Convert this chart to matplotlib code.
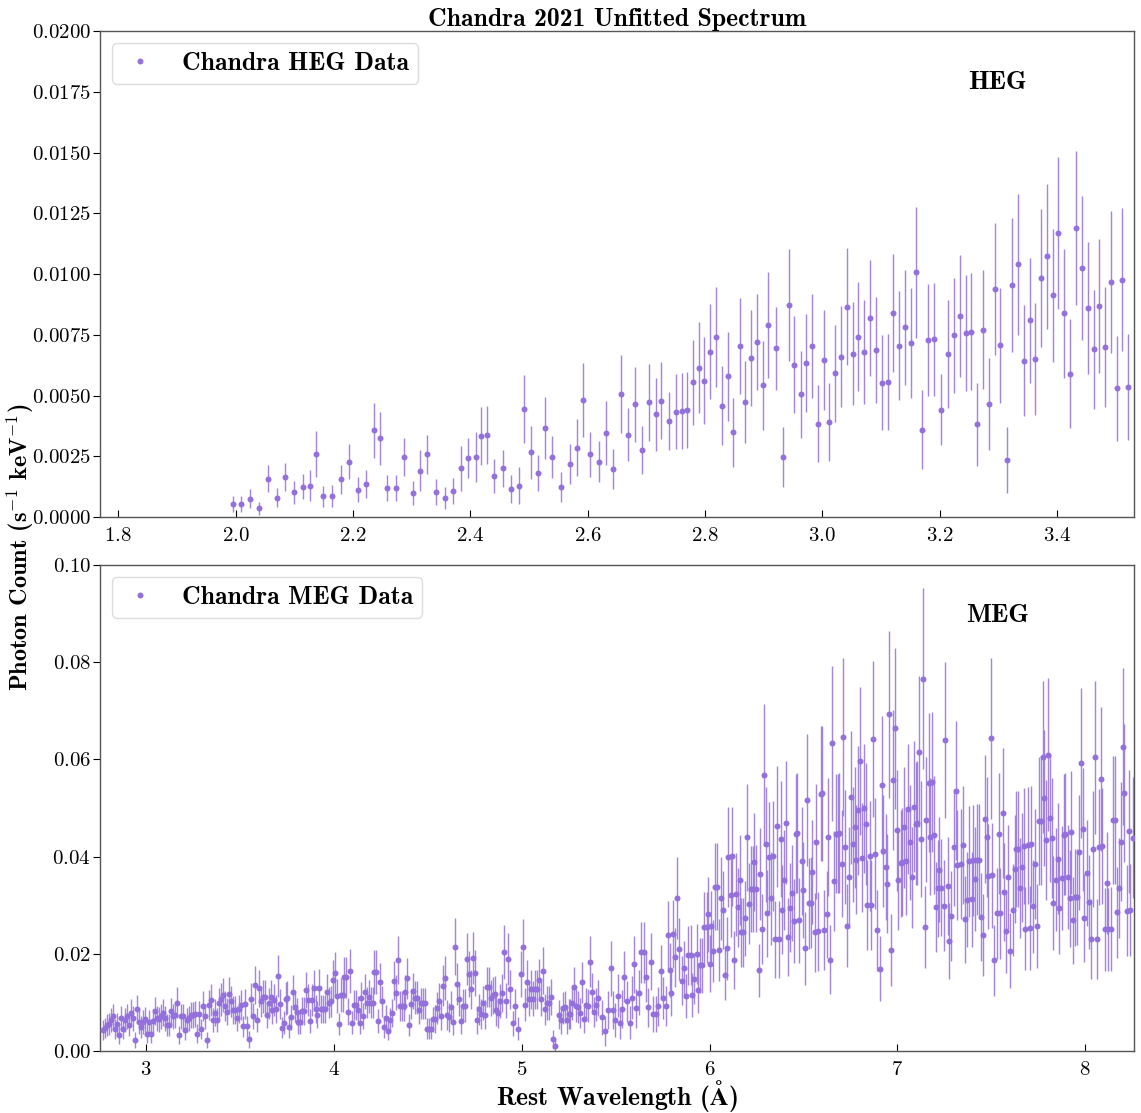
"""
Chandra 2021 unfitted HEG / MEG spectrum, recreated from the figure.
"""
import matplotlib
matplotlib.use("Agg")
import matplotlib.pyplot as plt
from matplotlib.ticker import MultipleLocator

plt.rcParams.update({
    "font.family": ["cmr10", "DejaVu Serif"],
    "mathtext.fontset": "cm",
    "axes.formatter.use_mathtext": True,
    "axes.unicode_minus": False,
})

PURPLE = "#9370DB"

# --- HEG data (wavelength in Angstrom, photon count, 1-sigma error) ---
heg_wave = [1.995, 2.010, 2.025, 2.040, 2.055, 2.070, 2.085, 2.100, 2.115, 2.127,
            2.137, 2.149, 2.164, 2.179, 2.193, 2.208, 2.223, 2.236, 2.246, 2.258,
            2.273, 2.287, 2.302, 2.315, 2.327, 2.342, 2.357, 2.371, 2.384, 2.396,
            2.409, 2.419, 2.429, 2.441, 2.456, 2.470, 2.483, 2.492, 2.503, 2.515,
            2.527, 2.540, 2.554, 2.570, 2.582, 2.592, 2.604, 2.619, 2.632, 2.644,
            2.657, 2.669, 2.681, 2.693, 2.705, 2.716, 2.725, 2.738, 2.750, 2.760,
            2.770, 2.779, 2.790, 2.799, 2.809, 2.819, 2.829, 2.839, 2.848, 2.859,
            2.868, 2.879, 2.888, 2.898, 2.908, 2.921, 2.933, 2.943, 2.952, 2.963,
            2.972, 2.983, 2.992, 3.002, 3.012, 3.022, 3.032, 3.042, 3.052, 3.061,
            3.071, 3.081, 3.091, 3.101, 3.111, 3.121, 3.131, 3.140, 3.151, 3.160,
            3.170, 3.180, 3.190, 3.202, 3.214, 3.224, 3.234, 3.244, 3.254, 3.264,
            3.274, 3.284, 3.294, 3.303, 3.314, 3.323, 3.333, 3.343, 3.353, 3.363,
            3.373, 3.382, 3.393, 3.402, 3.412, 3.422, 3.432, 3.442, 3.452, 3.462,
            3.471, 3.482, 3.491, 3.502, 3.511, 3.521]
heg_flux = [0.00054, 0.00053, 0.00075, 0.00036, 0.00158, 0.00080, 0.00163, 0.00101, 0.00125, 0.00128,
            0.00259, 0.00085, 0.00086, 0.00156, 0.00228, 0.00112, 0.00137, 0.00357, 0.00324, 0.00118,
            0.00119, 0.00248, 0.00099, 0.00191, 0.00258, 0.00103, 0.00077, 0.00106, 0.00200, 0.00244,
            0.00247, 0.00333, 0.00337, 0.00169, 0.00200, 0.00114, 0.00129, 0.00446, 0.00267, 0.00180,
            0.00365, 0.00246, 0.00122, 0.00219, 0.00285, 0.00481, 0.00258, 0.00228, 0.00346, 0.00199,
            0.00506, 0.00339, 0.00464, 0.00276, 0.00472, 0.00423, 0.00479, 0.00394, 0.00433, 0.00436,
            0.00439, 0.00554, 0.00614, 0.00561, 0.00680, 0.00742, 0.00458, 0.00579, 0.00348, 0.00704,
            0.00472, 0.00654, 0.00719, 0.00542, 0.00790, 0.00694, 0.00246, 0.00872, 0.00627, 0.00505,
            0.00635, 0.00704, 0.00384, 0.00647, 0.00390, 0.00591, 0.00660, 0.00866, 0.00671, 0.00742,
            0.00678, 0.00820, 0.00687, 0.00553, 0.00556, 0.00841, 0.00705, 0.00781, 0.00715, 0.01007,
            0.00359, 0.00727, 0.00731, 0.00442, 0.00670, 0.00748, 0.00828, 0.00757, 0.00763, 0.00381,
            0.00771, 0.00464, 0.00937, 0.00707, 0.00235, 0.00955, 0.01040, 0.00643, 0.00809, 0.00650,
            0.00984, 0.01073, 0.00912, 0.01169, 0.00838, 0.00590, 0.01189, 0.01025, 0.00859, 0.00690,
            0.00868, 0.00698, 0.00966, 0.00530, 0.00977, 0.00535]
heg_err = [0.00032, 0.00032, 0.00039, 0.00027, 0.00057, 0.00040, 0.00058, 0.00047, 0.00052, 0.00064,
           0.00093, 0.00043, 0.00044, 0.00060, 0.00072, 0.00052, 0.00058, 0.00113, 0.00108, 0.00054,
           0.00054, 0.00079, 0.00049, 0.00086, 0.00081, 0.00052, 0.00045, 0.00054, 0.00092, 0.00083,
           0.00102, 0.00119, 0.00120, 0.00070, 0.00077, 0.00058, 0.00075, 0.00140, 0.00109, 0.00074,
           0.00128, 0.00087, 0.00062, 0.00083, 0.00117, 0.00152, 0.00092, 0.00086, 0.00131, 0.00082,
           0.00160, 0.00108, 0.00154, 0.00098, 0.00158, 0.00150, 0.00160, 0.00119, 0.00154, 0.00156,
           0.00156, 0.00176, 0.00187, 0.00178, 0.00196, 0.00206, 0.00163, 0.00183, 0.00142, 0.00198,
           0.00168, 0.00198, 0.00198, 0.00182, 0.00220, 0.00170, 0.00123, 0.00232, 0.00199, 0.00178,
           0.00201, 0.00213, 0.00158, 0.00205, 0.00160, 0.00198, 0.00209, 0.00240, 0.00212, 0.00224,
           0.00215, 0.00238, 0.00217, 0.00197, 0.00198, 0.00243, 0.00224, 0.00237, 0.00226, 0.00269,
           0.00162, 0.00231, 0.00232, 0.00147, 0.00222, 0.00236, 0.00250, 0.00240, 0.00241, 0.00172,
           0.00244, 0.00189, 0.00271, 0.00236, 0.00137, 0.00276, 0.00289, 0.00229, 0.00257, 0.00231,
           0.00285, 0.00298, 0.00275, 0.00313, 0.00266, 0.00223, 0.00318, 0.00296, 0.00272, 0.00244,
           0.00275, 0.00247, 0.00292, 0.00216, 0.00294, 0.00218]

# --- MEG data ---
meg_wave = [
    2.769, 2.780, 2.791, 2.801, 2.812, 2.823, 2.833, 2.844, 2.855, 2.865,
    2.876, 2.886, 2.897, 2.908, 2.918, 2.929, 2.940, 2.950, 2.961, 2.972,
    2.982, 2.993, 3.004, 3.014, 3.025, 3.036, 3.046, 3.057, 3.068, 3.078,
    3.089, 3.099, 3.110, 3.121, 3.131, 3.142, 3.153, 3.163, 3.174, 3.185,
    3.195, 3.206, 3.217, 3.227, 3.238, 3.249, 3.259, 3.270, 3.281, 3.291,
    3.302, 3.312, 3.323, 3.334, 3.344, 3.355, 3.366, 3.376, 3.387, 3.398,
    3.408, 3.419, 3.430, 3.440, 3.451, 3.462, 3.472, 3.483, 3.493, 3.504,
    3.515, 3.525, 3.536, 3.547, 3.557, 3.568, 3.579, 3.589, 3.600, 3.611,
    3.621, 3.632, 3.643, 3.653,
    3.664, 3.673, 3.683, 3.692, 3.701, 3.712, 3.722, 3.733, 3.744, 3.751,
    3.761, 3.772, 3.783, 3.793, 3.804, 3.811, 3.822, 3.829, 3.840, 3.850,
    3.861, 3.872, 3.882, 3.893, 3.903, 3.912, 3.921, 3.932, 3.943, 3.953,
    3.964, 3.974, 3.985, 3.996, 4.006, 4.017, 4.028, 4.038, 4.049, 4.056,
    4.067, 4.077, 4.086, 4.095, 4.106, 4.116, 4.127, 4.138, 4.145, 4.156,
    4.166, 4.177, 4.188, 4.198, 4.209, 4.216, 4.227, 4.237, 4.244, 4.255,
    4.266, 4.276, 4.287, 4.298, 4.308, 4.319, 4.329, 4.340, 4.351, 4.361,
    4.372, 4.379, 4.390, 4.401, 4.411, 4.422, 4.432, 4.443, 4.454, 4.464,
    4.475, 4.486, 4.496, 4.507, 4.518, 4.528,
    4.537, 4.551, 4.562, 4.573, 4.583, 4.594, 4.605, 4.615, 4.626, 4.637,
    4.647, 4.658, 4.669, 4.679, 4.690, 4.700, 4.711, 4.722, 4.732, 4.740,
    4.750, 4.764, 4.775, 4.786, 4.793, 4.803, 4.814, 4.825, 4.835, 4.846,
    4.857, 4.864, 4.874, 4.885, 4.896, 4.906, 4.917, 4.928, 4.938, 4.952,
    4.967, 4.981, 4.995, 5.006, 5.018, 5.031, 5.041, 5.052, 5.063, 5.073,
    5.084, 5.094, 5.102, 5.112, 5.123, 5.134, 5.144, 5.155, 5.166, 5.178,
    5.197, 5.208, 5.219, 5.229, 5.240, 5.251, 5.258, 5.268, 5.279, 5.290,
    5.300, 5.311, 5.322, 5.332, 5.343, 5.354, 5.364, 5.375, 5.386, 5.396,
    5.407,
    5.430, 5.444, 5.462, 5.473, 5.487, 5.497, 5.512, 5.526, 5.536, 5.547,
    5.561, 5.576, 5.586, 5.597, 5.611, 5.622, 5.636, 5.650, 5.661, 5.675,
    5.687, 5.700, 5.714, 5.728, 5.742, 5.755, 5.767, 5.778, 5.789, 5.797,
    5.806, 5.817, 5.828, 5.840, 5.851, 5.863, 5.874, 5.884, 5.899, 5.909,
    5.920, 5.932, 5.941, 5.952, 5.962, 5.973, 5.984, 5.991, 6.000, 6.009,
    6.021, 6.030, 6.041, 6.051, 6.060, 6.071, 6.080, 6.092, 6.101, 6.112,
    6.120, 6.131, 6.140, 6.151, 6.160, 6.168, 6.179, 6.190, 6.200, 6.211,
    6.220, 6.229, 6.239, 6.250, 6.261, 6.270, 6.280,
    6.289, 6.300, 6.308, 6.319, 6.330, 6.340, 6.349, 6.360, 6.369, 6.379,
    6.388, 6.399, 6.408, 6.419, 6.429, 6.438, 6.449, 6.459, 6.468, 6.479,
    6.490, 6.498, 6.509, 6.518, 6.529, 6.539, 6.548, 6.559, 6.569, 6.580,
    6.591, 6.601, 6.612, 6.623, 6.633, 6.642, 6.653, 6.662, 6.672, 6.683,
    6.692, 6.703, 6.713, 6.722, 6.733, 6.742, 6.752, 6.763, 6.772, 6.782,
    6.793, 6.802, 6.813, 6.823, 6.832, 6.841, 6.852, 6.862, 6.873, 6.882,
    6.892, 6.907, 6.917, 6.926, 6.937, 6.947, 6.956, 6.967, 6.976, 6.987,
    6.997, 7.006, 7.017, 7.027, 7.036, 7.047, 7.058, 7.066, 7.077, 7.086,
    7.097, 7.107, 7.116, 7.127, 7.137, 7.146, 7.155, 7.166, 7.176, 7.185,
    7.196, 7.205, 7.215, 7.224, 7.235, 7.246, 7.256, 7.267, 7.274,
    7.286, 7.299, 7.310, 7.320, 7.338, 7.352, 7.359, 7.370, 7.382, 7.395,
    7.405, 7.414, 7.425, 7.434, 7.444, 7.455, 7.464, 7.475, 7.485, 7.496,
    7.505, 7.517, 7.530, 7.539, 7.549, 7.560, 7.569, 7.579, 7.590, 7.602,
    7.613, 7.624, 7.634, 7.643, 7.652, 7.664, 7.675, 7.682, 7.693, 7.704,
    7.712, 7.723, 7.734, 7.744, 7.755, 7.764, 7.775, 7.782, 7.792, 7.803,
    7.814, 7.823, 7.831, 7.842, 7.853, 7.863, 7.874, 7.886, 7.895, 7.906,
    7.917, 7.925, 7.936, 7.947, 7.956, 7.966, 7.977, 7.986, 7.996, 8.007,
    8.018, 8.030, 8.041, 8.051, 8.062, 8.071, 8.082, 8.092, 8.103, 8.114,
    8.124, 8.135, 8.146, 8.156, 8.169, 8.179, 8.190, 8.201, 8.209, 8.220,
    8.231, 8.241, 8.254]
meg_flux = [
    0.0043, 0.0047, 0.0054, 0.0056, 0.0064, 0.0071, 0.0045, 0.0056, 0.0033, 0.0067,
    0.0045, 0.0064, 0.0071, 0.0054, 0.0078, 0.0067, 0.0023, 0.0086, 0.0060, 0.0049,
    0.0060, 0.0065, 0.0036, 0.0060, 0.0036, 0.0062, 0.0083, 0.0067, 0.0065, 0.0071,
    0.0079, 0.0067, 0.0054, 0.0054, 0.0082, 0.0071, 0.0074, 0.0099, 0.0033, 0.0071,
    0.0071, 0.0043, 0.0064, 0.0067, 0.0074, 0.0074, 0.0076, 0.0036, 0.0076, 0.0045,
    0.0093, 0.0071, 0.0023, 0.0095, 0.0104, 0.0064, 0.0079, 0.0064, 0.0098, 0.0106,
    0.0115, 0.0093, 0.0081, 0.0117, 0.0102, 0.0084, 0.0084, 0.0067, 0.0086, 0.0095,
    0.0051, 0.0096, 0.0051, 0.0024, 0.0106, 0.0072, 0.0136, 0.0064, 0.0129, 0.0102,
    0.0112, 0.0112, 0.0074, 0.0098,
    0.0112, 0.0084, 0.0105, 0.0086, 0.0155, 0.0097, 0.0048, 0.0058, 0.0108, 0.0110,
    0.0049, 0.0069, 0.0121, 0.0090, 0.0081, 0.0060, 0.0060, 0.0083, 0.0083, 0.0126,
    0.0105, 0.0062, 0.0105, 0.0129, 0.0086, 0.0075, 0.0130, 0.0086, 0.0087, 0.0087,
    0.0122, 0.0099, 0.0102, 0.0146, 0.0160, 0.0114, 0.0056, 0.0115, 0.0115, 0.0152,
    0.0152, 0.0081, 0.0165, 0.0058, 0.0095, 0.0095, 0.0084, 0.0058, 0.0109, 0.0072,
    0.0122, 0.0099, 0.0112, 0.0099, 0.0099, 0.0163, 0.0163, 0.0062, 0.0141, 0.0102,
    0.0049, 0.0068, 0.0042, 0.0064, 0.0078, 0.0145, 0.0120, 0.0187, 0.0093, 0.0093,
    0.0093, 0.0121, 0.0150, 0.0054, 0.0096, 0.0124, 0.0110, 0.0110, 0.0084, 0.0098,
    0.0098, 0.0098, 0.0046, 0.0046, 0.0046, 0.0065,
    0.0066, 0.0088, 0.0103, 0.0073, 0.0134, 0.0150, 0.0074, 0.0069, 0.0090, 0.0060,
    0.0215, 0.0138, 0.0107, 0.0061, 0.0093, 0.0093, 0.0189, 0.0158, 0.0127, 0.0191,
    0.0160, 0.0064, 0.0086, 0.0076, 0.0098, 0.0075, 0.0131, 0.0131, 0.0110, 0.0115,
    0.0117, 0.0084, 0.0079, 0.0102, 0.0119, 0.0204, 0.0103, 0.0189, 0.0127, 0.0057,
    0.0093, 0.0046, 0.0158, 0.0213, 0.0095, 0.0143, 0.0107, 0.0127, 0.0108, 0.0127,
    0.0127, 0.0146, 0.0108, 0.0165, 0.0086, 0.0099, 0.0098, 0.0112, 0.0024, 0.0010,
    0.0075, 0.0064, 0.0088, 0.0090, 0.0064, 0.0076, 0.0076, 0.0098, 0.0132, 0.0093,
    0.0091, 0.0079, 0.0141, 0.0065, 0.0095, 0.0093, 0.0184, 0.0122, 0.0081, 0.0095,
    0.0110,
    0.0069, 0.0041, 0.0084, 0.0170, 0.0084, 0.0064, 0.0114, 0.0057, 0.0086, 0.0153,
    0.0102, 0.0058, 0.0110, 0.0178, 0.0088, 0.0120, 0.0203, 0.0203, 0.0152, 0.0090,
    0.0184, 0.0076, 0.0076, 0.0092, 0.0164, 0.0109, 0.0093, 0.0238, 0.0167, 0.0119,
    0.0240, 0.0193, 0.0315, 0.0210, 0.0145, 0.0170, 0.0113, 0.0197, 0.0198, 0.0115,
    0.0149, 0.0200, 0.0125, 0.0176, 0.0176, 0.0255, 0.0255, 0.0281, 0.0180, 0.0257,
    0.0206, 0.0338, 0.0338, 0.0208, 0.0314, 0.0290, 0.0157, 0.0211, 0.0399, 0.0320,
    0.0401, 0.0187, 0.0322, 0.0296, 0.0352, 0.0244, 0.0244, 0.0273, 0.0440, 0.0303,
    0.0333, 0.0333, 0.0389, 0.0334, 0.0166, 0.0364, 0.0252,
    0.0567, 0.0425, 0.0283, 0.0399, 0.0314, 0.0402, 0.0230, 0.0462, 0.0230, 0.0436,
    0.0291, 0.0351, 0.0470, 0.0235, 0.0295, 0.0325, 0.0267, 0.0447, 0.0449, 0.0269,
    0.0391, 0.0331, 0.0211, 0.0517, 0.0304, 0.0305, 0.0368, 0.0244, 0.0431, 0.0246,
    0.0529, 0.0530, 0.0249, 0.0281, 0.0440, 0.0188, 0.0633, 0.0349, 0.0447, 0.0447,
    0.0448, 0.0385, 0.0646, 0.0420, 0.0258, 0.0357, 0.0522, 0.0425, 0.0460, 0.0394,
    0.0495, 0.0596, 0.0398, 0.0499, 0.0467, 0.0300, 0.0402, 0.0301, 0.0642, 0.0406,
    0.0248, 0.0169, 0.0547, 0.0412, 0.0378, 0.0344, 0.0693, 0.0207, 0.0557, 0.0664,
    0.0454, 0.0351, 0.0386, 0.0389, 0.0460, 0.0390, 0.0498, 0.0429, 0.0357, 0.0503,
    0.0468, 0.0469, 0.0616, 0.0436, 0.0766, 0.0255, 0.0476, 0.0552, 0.0441, 0.0554,
    0.0444, 0.0296, 0.0335, 0.0373, 0.0336, 0.0299, 0.0640, 0.0339, 0.0226,
    0.0278, 0.0419, 0.0535, 0.0383, 0.0384, 0.0424, 0.0271, 0.0311, 0.0390, 0.0312,
    0.0392, 0.0353, 0.0394, 0.0394, 0.0276, 0.0238, 0.0478, 0.0440, 0.0360, 0.0643,
    0.0362, 0.0187, 0.0283, 0.0447, 0.0283, 0.0490, 0.0327, 0.0246, 0.0357, 0.0206,
    0.0290, 0.0374, 0.0416, 0.0416, 0.0335, 0.0378, 0.0422, 0.0252, 0.0423, 0.0253,
    0.0425, 0.0298, 0.0384, 0.0257, 0.0473, 0.0473, 0.0605, 0.0520, 0.0434, 0.0610,
    0.0480, 0.0438, 0.0305, 0.0352, 0.0396, 0.0295, 0.0355, 0.0445, 0.0446, 0.0357,
    0.0314, 0.0450, 0.0269, 0.0316, 0.0317, 0.0409, 0.0592, 0.0456, 0.0274, 0.0366,
    0.0307, 0.0230, 0.0416, 0.0604, 0.0231, 0.0420, 0.0560, 0.0422, 0.0250, 0.0345,
    0.0250, 0.0251, 0.0475, 0.0475, 0.0285, 0.0335, 0.0431, 0.0626, 0.0530, 0.0289,
    0.0452, 0.0290, 0.0439]
meg_err = [
    0.0021, 0.0021, 0.0023, 0.0023, 0.0025, 0.0026, 0.0021, 0.0023, 0.0019, 0.0025,
    0.0021, 0.0025, 0.0026, 0.0023, 0.0028, 0.0025, 0.0017, 0.0029, 0.0024, 0.0022,
    0.0024, 0.0025, 0.0019, 0.0024, 0.0019, 0.0024, 0.0029, 0.0025, 0.0025, 0.0026,
    0.0028, 0.0025, 0.0023, 0.0023, 0.0028, 0.0026, 0.0027, 0.0032, 0.0019, 0.0026,
    0.0026, 0.0021, 0.0025, 0.0025, 0.0027, 0.0027, 0.0027, 0.0019, 0.0027, 0.0021,
    0.0031, 0.0026, 0.0017, 0.0031, 0.0033, 0.0025, 0.0028, 0.0025, 0.0032, 0.0033,
    0.0035, 0.0031, 0.0028, 0.0035, 0.0032, 0.0029, 0.0029, 0.0025, 0.0029, 0.0031,
    0.0022, 0.0031, 0.0022, 0.0017, 0.0033, 0.0026, 0.0039, 0.0025, 0.0038, 0.0032,
    0.0034, 0.0034, 0.0027, 0.0032,
    0.0034, 0.0029, 0.0033, 0.0029, 0.0043, 0.0031, 0.0022, 0.0024, 0.0034, 0.0034,
    0.0022, 0.0026, 0.0036, 0.0030, 0.0028, 0.0024, 0.0024, 0.0029, 0.0029, 0.0037,
    0.0033, 0.0024, 0.0033, 0.0038, 0.0029, 0.0027, 0.0038, 0.0029, 0.0029, 0.0029,
    0.0036, 0.0032, 0.0032, 0.0041, 0.0044, 0.0035, 0.0023, 0.0035, 0.0035, 0.0042,
    0.0042, 0.0028, 0.0045, 0.0024, 0.0031, 0.0031, 0.0029, 0.0024, 0.0034, 0.0026,
    0.0036, 0.0032, 0.0034, 0.0032, 0.0032, 0.0045, 0.0045, 0.0024, 0.0040, 0.0032,
    0.0022, 0.0026, 0.0020, 0.0025, 0.0028, 0.0041, 0.0036, 0.0049, 0.0031, 0.0031,
    0.0031, 0.0036, 0.0042, 0.0023, 0.0031, 0.0037, 0.0034, 0.0034, 0.0029, 0.0032,
    0.0032, 0.0032, 0.0021, 0.0021, 0.0021, 0.0025,
    0.0028, 0.0033, 0.0036, 0.0030, 0.0042, 0.0045, 0.0030, 0.0029, 0.0033, 0.0027,
    0.0058, 0.0043, 0.0036, 0.0027, 0.0034, 0.0034, 0.0053, 0.0047, 0.0040, 0.0053,
    0.0047, 0.0028, 0.0032, 0.0030, 0.0035, 0.0030, 0.0041, 0.0041, 0.0037, 0.0038,
    0.0038, 0.0032, 0.0031, 0.0035, 0.0039, 0.0056, 0.0036, 0.0053, 0.0040, 0.0026,
    0.0034, 0.0024, 0.0047, 0.0058, 0.0034, 0.0044, 0.0036, 0.0040, 0.0037, 0.0040,
    0.0040, 0.0044, 0.0037, 0.0048, 0.0032, 0.0035, 0.0035, 0.0037, 0.0020, 0.0017,
    0.0030, 0.0028, 0.0033, 0.0033, 0.0028, 0.0030, 0.0030, 0.0035, 0.0041, 0.0034,
    0.0033, 0.0031, 0.0043, 0.0028, 0.0034, 0.0034, 0.0052, 0.0039, 0.0031, 0.0034,
    0.0037,
    0.0036, 0.0030, 0.0039, 0.0056, 0.0039, 0.0035, 0.0045, 0.0033, 0.0039, 0.0053,
    0.0042, 0.0034, 0.0044, 0.0058, 0.0040, 0.0046, 0.0063, 0.0063, 0.0052, 0.0040,
    0.0059, 0.0037, 0.0037, 0.0040, 0.0055, 0.0044, 0.0041, 0.0070, 0.0055, 0.0046,
    0.0070, 0.0061, 0.0085, 0.0064, 0.0051, 0.0056, 0.0045, 0.0061, 0.0062, 0.0045,
    0.0052, 0.0062, 0.0047, 0.0057, 0.0057, 0.0073, 0.0073, 0.0078, 0.0058, 0.0073,
    0.0063, 0.0090, 0.0090, 0.0064, 0.0085, 0.0080, 0.0053, 0.0064, 0.0102, 0.0086,
    0.0102, 0.0059, 0.0086, 0.0081, 0.0092, 0.0071, 0.0071, 0.0077, 0.0110, 0.0083,
    0.0089, 0.0089, 0.0100, 0.0089, 0.0055, 0.0095, 0.0072,
    0.0146, 0.0118, 0.0090, 0.0113, 0.0096, 0.0113, 0.0079, 0.0125, 0.0079, 0.0120,
    0.0091, 0.0103, 0.0127, 0.0080, 0.0092, 0.0098, 0.0086, 0.0122, 0.0123, 0.0087,
    0.0111, 0.0099, 0.0075, 0.0136, 0.0094, 0.0094, 0.0107, 0.0082, 0.0119, 0.0082,
    0.0139, 0.0139, 0.0083, 0.0089, 0.0121, 0.0071, 0.0160, 0.0103, 0.0122, 0.0122,
    0.0123, 0.0110, 0.0162, 0.0117, 0.0085, 0.0104, 0.0137, 0.0118, 0.0125, 0.0112,
    0.0132, 0.0152, 0.0113, 0.0133, 0.0126, 0.0093, 0.0113, 0.0093, 0.0161, 0.0114,
    0.0083, 0.0067, 0.0142, 0.0115, 0.0109, 0.0102, 0.0172, 0.0074, 0.0144, 0.0166,
    0.0124, 0.0103, 0.0110, 0.0111, 0.0125, 0.0111, 0.0133, 0.0119, 0.0104, 0.0134,
    0.0127, 0.0127, 0.0156, 0.0120, 0.0186, 0.0084, 0.0128, 0.0143, 0.0121, 0.0144,
    0.0122, 0.0092, 0.0100, 0.0108, 0.0100, 0.0093, 0.0161, 0.0101, 0.0078,
    0.0092, 0.0120, 0.0143, 0.0113, 0.0113, 0.0121, 0.0090, 0.0098, 0.0114, 0.0098,
    0.0114, 0.0107, 0.0115, 0.0115, 0.0091, 0.0084, 0.0132, 0.0124, 0.0108, 0.0165,
    0.0108, 0.0073, 0.0093, 0.0125, 0.0093, 0.0134, 0.0101, 0.0085, 0.0107, 0.0077,
    0.0094, 0.0111, 0.0119, 0.0119, 0.0103, 0.0112, 0.0120, 0.0086, 0.0121, 0.0087,
    0.0121, 0.0096, 0.0113, 0.0087, 0.0131, 0.0131, 0.0157, 0.0140, 0.0123, 0.0158,
    0.0132, 0.0124, 0.0097, 0.0106, 0.0115, 0.0095, 0.0107, 0.0125, 0.0125, 0.0107,
    0.0099, 0.0126, 0.0090, 0.0099, 0.0099, 0.0118, 0.0154, 0.0127, 0.0091, 0.0109,
    0.0097, 0.0082, 0.0119, 0.0157, 0.0082, 0.0120, 0.0148, 0.0120, 0.0086, 0.0105,
    0.0086, 0.0086, 0.0131, 0.0131, 0.0093, 0.0103, 0.0122, 0.0161, 0.0142, 0.0094,
    0.0126, 0.0094, 0.0124]

BOLD = ["cmb10", "DejaVu Serif"]


def draw_panel(ax, wave, flux, err, label, tag):
    ax.errorbar(wave, flux, yerr=err, fmt="none", ecolor=PURPLE,
                elinewidth=1.0, alpha=0.85, zorder=2)
    ax.plot(wave, flux, "o", color=PURPLE, ms=4.3, mew=0, label=label, zorder=3)
    ax.legend(loc="upper left", prop={"family": BOLD, "size": 18.5},
              handlelength=1.5, handletextpad=0.9, borderaxespad=0.45,
              borderpad=0.35, framealpha=1, edgecolor="#dddddd", fancybox=True)
    ax.text(0.868, 0.895, tag, transform=ax.transAxes, ha="center", va="center",
            fontsize=19, family=BOLD)
    ax.tick_params(axis="x", direction="in", length=5, labelsize=15, pad=7)
    ax.tick_params(axis="y", direction="out", length=5, labelsize=15, pad=1.5)
    for s in ax.spines.values():
        s.set_color("#555555")
        s.set_linewidth(1.0)


fig = plt.figure(figsize=(11.41, 11.13), dpi=100)
ax1 = fig.add_axes([0.0876, 0.5355, 0.9063, 0.4366])
ax2 = fig.add_axes([0.0876, 0.0557, 0.9063, 0.4367])

draw_panel(ax1, heg_wave, heg_flux, heg_err, "Chandra HEG Data", "HEG")
ax1.set_xlim(1.769, 3.531)
ax1.set_ylim(0, 0.02)
ax1.xaxis.set_major_locator(MultipleLocator(0.2))
ax1.yaxis.set_major_locator(MultipleLocator(0.0025))
ax1.set_title("Chandra 2021 Unfitted Spectrum", family=BOLD, fontsize=18.5, pad=3)

draw_panel(ax2, meg_wave, meg_flux, meg_err, "Chandra MEG Data", "MEG")
ax2.set_xlim(2.755, 8.26)
ax2.set_ylim(0, 0.1)
ax2.xaxis.set_major_locator(MultipleLocator(1))
ax2.yaxis.set_major_locator(MultipleLocator(0.02))

fig.text(0.5408, 0.0153, r"Rest Wavelength ($\mathbf{\AA}$)", ha="center", va="center",
         family=BOLD, fontsize=18.5)
fig.text(0.0175, 0.508, r"Photon Count (s$^{-1}$ keV$^{-1}$)", rotation=90,
         ha="center", va="center", family=BOLD, fontsize=17.5)

fig.savefig("out.png", dpi=100)
